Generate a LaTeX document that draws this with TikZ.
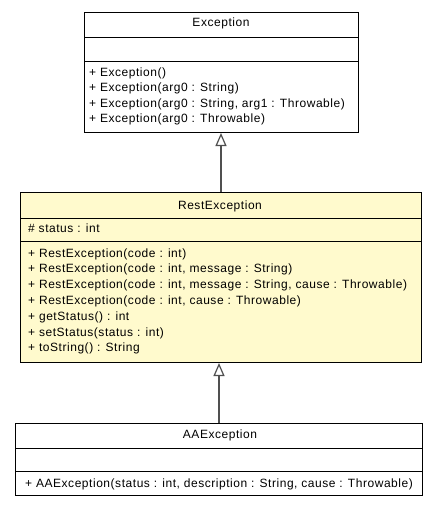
\documentclass[tikz,border=0pt]{standalone}
\usepackage{fontspec}
\setmainfont{Liberation Sans}[LetterSpace=4.5]
\usetikzlibrary{arrows.meta}
\definecolor{restfill}{RGB}{255,250,205}
\definecolor{gencol}{RGB}{80,80,80}
\begin{document}
\begin{tikzpicture}[x=1pt,y=-1pt,
  box/.style={draw=black,line width=1pt,inner sep=0pt,anchor=north west},
  divider/.style={draw=black,line width=1pt},
  txt/.style={font=\fontsize{12}{14}\selectfont,inner sep=0pt,anchor=mid west},
  ttl/.style={font=\fontsize{12}{14}\selectfont,inner sep=0pt,anchor=mid},
  gen/.style={draw=gencol,line width=1.6pt,-{Triangle[open,width=11pt,length=13pt,line width=1.2pt]}}]
\useasboundingbox (0,0) rectangle (440,507);
\fill[white] (0,0) rectangle (440,507);
% Exception
\node[box,fill=white,minimum width=274pt,minimum height=120pt] (exc) at (84,12) {};
\draw[divider] (84,37) -- (358,37);
\draw[divider] (84,61) -- (358,61);
\node[ttl] (excT) at (221,24) {Exception};
\node[txt] (e1) at (89,73.5) {+ Exception()};
\node[txt] (e2) at (89,89) {+ Exception(arg0 : String)};
\node[txt] (e3) at (89,104.5) {+ Exception(arg0 : String, arg1 : Throwable)};
\node[txt] (e4) at (89,120) {+ Exception(arg0 : Throwable)};
% RestException
\node[box,fill=restfill,minimum width=401pt,minimum height=170pt] (rest) at (20,192) {};
\draw[divider] (20,218) -- (421,218);
\draw[divider] (20,241) -- (421,241);
\node[ttl] (restT) at (220,206.5) {RestException};
\node[txt] (r0) at (28,230) {\# status : int};
\node[txt] (r1) at (28,254.5) {+ RestException(code : int)};
\node[txt] (r2) at (28,270.3) {+ RestException(code : int, message : String)};
\node[txt] (r3) at (28,286.1) {+ RestException(code : int, message : String, cause : Throwable)};
\node[txt] (r4) at (28,301.9) {+ RestException(code : int, cause : Throwable)};
\node[txt] (r5) at (28,317.7) {+ getStatus() : int};
\node[txt] (r6) at (28,333.5) {+ setStatus(status : int)};
\node[txt] (r7) at (28,349.3) {+ toString() : String};
% AAException
\node[box,fill=white,minimum width=407pt,minimum height=72pt] (aa) at (15,423) {};
\draw[divider] (15,448) -- (422,448);
\draw[divider] (15,471) -- (422,471);
\node[ttl] (aaT) at (220,436) {AAException};
\node[txt] (a1) at (25,484.5) {+ AAException(status : int, description : String, cause : Throwable)};
% generalizations
\draw[gen] (rest.north -| excT) -- (exc.south -| excT);
\draw[gen] (aa.north) -- (rest.south -| aa.north);
\end{tikzpicture}
\end{document}
